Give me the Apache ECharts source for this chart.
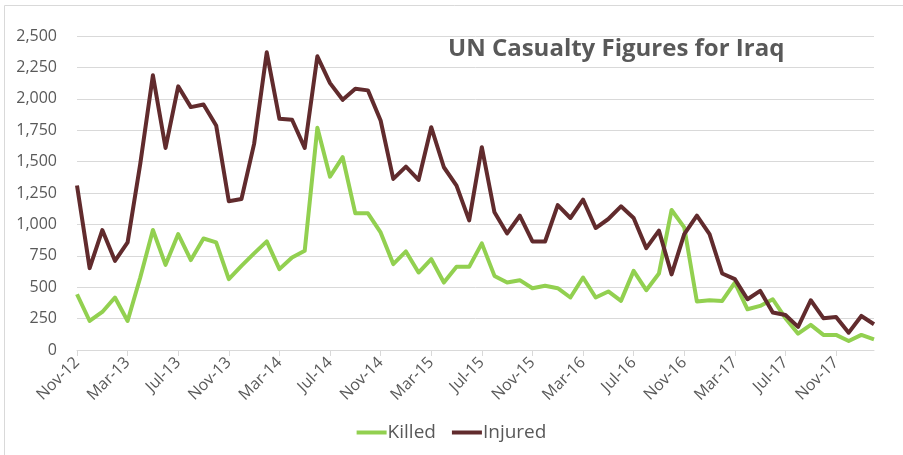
<!DOCTYPE html>
<html>
<head>
<meta charset="utf-8">
<script src="https://cdn.jsdelivr.net/npm/echarts@6/dist/echarts.min.js"></script>
<style>
  html, body { margin: 0; padding: 0; background: #fff; }
  #chart { width: 903px; height: 455px; }
</style>
</head>
<body>
<div id="chart"></div>
<script>
// months Nov-12 .. Feb-18
const monthNames = ['Jan','Feb','Mar','Apr','May','Jun','Jul','Aug','Sep','Oct','Nov','Dec']
const months = []
for (let y = 12, m = 10; months.length < 64; m++) {
  if (m > 11) { m = 0; y++ }
  months.push(monthNames[m] + '-' + y)
}

const killed = [
  444, 231, 303, 418, 231, 577, 955, 678, 923, 716, 888, 857, 564, 670, 769, 865,
  644, 737, 790, 1769, 1380, 1535, 1088, 1088, 936, 684, 785, 617, 724, 537, 662, 662,
  849, 590, 537, 556, 492, 511, 492, 418, 577, 418, 466, 391, 630, 476, 609, 1115,
  976, 386, 396, 391, 537, 324, 351, 404, 253, 130, 200, 120, 120, 72, 120, 85
]
const injured = [
  1310, 652, 955, 710, 857, 1482, 2187, 1609, 2099, 1934, 1955, 1788, 1184, 1202, 1641, 2370,
  1841, 1833, 1609, 2338, 2125, 1992, 2080, 2067, 1827, 1362, 1460, 1354, 1774, 1455, 1309, 1032,
  1615, 1096, 928, 1069, 864, 864, 1154, 1051, 1197, 971, 1043, 1144, 1051, 811, 950, 602,
  923, 1069, 923, 609, 564, 404, 471, 298, 279, 184, 396, 253, 263, 138, 271, 205
]

const textColor = '#595959'
const gridColor = '#d9d9d9'
const font = 'Open Sans'

let chart = echarts.init(document.getElementById('chart'))

let option = {
  animation: false,
  title: {
    text: 'UN Casualty Figures for Iraq',
    left: 443,
    top: 32,
    textStyle: {
      color: textColor,
      fontFamily: font,
      fontWeight: 'bold',
      fontSize: 24
    }
  },
  graphic: [{
    type: 'rect',
    shape: { x: 4.5, y: 5.5, width: 1000, height: 1000 },
    style: { fill: 'none', stroke: gridColor, lineWidth: 1 },
    silent: true
  }],
  grid: {
    left: 77,
    right: 29,
    top: 36,
    bottom: 105
  },
  legend: {
    bottom: 8,
    left: 'center',
    itemWidth: 30,
    itemHeight: 4,
    itemGap: 16,
    icon: 'rect',
    textStyle: {
      color: textColor,
      fontFamily: font,
      fontSize: 19,
      padding: [0, 0, 0, -4]
    },
    data: ['Killed', 'Injured']
  },
  xAxis: {
    type: 'category',
    data: months,
    boundaryGap: false,
    axisLine: { lineStyle: { color: gridColor } },
    axisTick: { interval: 3, length: 6, lineStyle: { color: gridColor } },
    axisLabel: {
      interval: 3,
      rotate: 45,
      margin: 10,
      color: textColor,
      fontFamily: font,
      fontSize: 16
    },
    splitLine: { show: false }
  },
  yAxis: {
    type: 'value',
    min: 0,
    max: 2500,
    interval: 250,
    axisLine: { show: false },
    axisTick: { show: false },
    axisLabel: {
      margin: 20,
      color: textColor,
      fontFamily: font,
      fontSize: 16,
      formatter: (v) => v.toLocaleString('en-US')
    },
    splitLine: { lineStyle: { color: gridColor, width: 1 } }
  },
  series: [
    {
      name: 'Killed',
      type: 'line',
      data: killed,
      symbol: 'none',
      color: '#92d050',
      lineStyle: { color: '#92d050', width: 4, join: 'round' }
    },
    {
      name: 'Injured',
      type: 'line',
      data: injured,
      symbol: 'none',
      color: '#612b2d',
      lineStyle: { color: '#612b2d', width: 4, join: 'round' }
    }
  ]
}

chart.setOption(option)
</script>
</body>
</html>
